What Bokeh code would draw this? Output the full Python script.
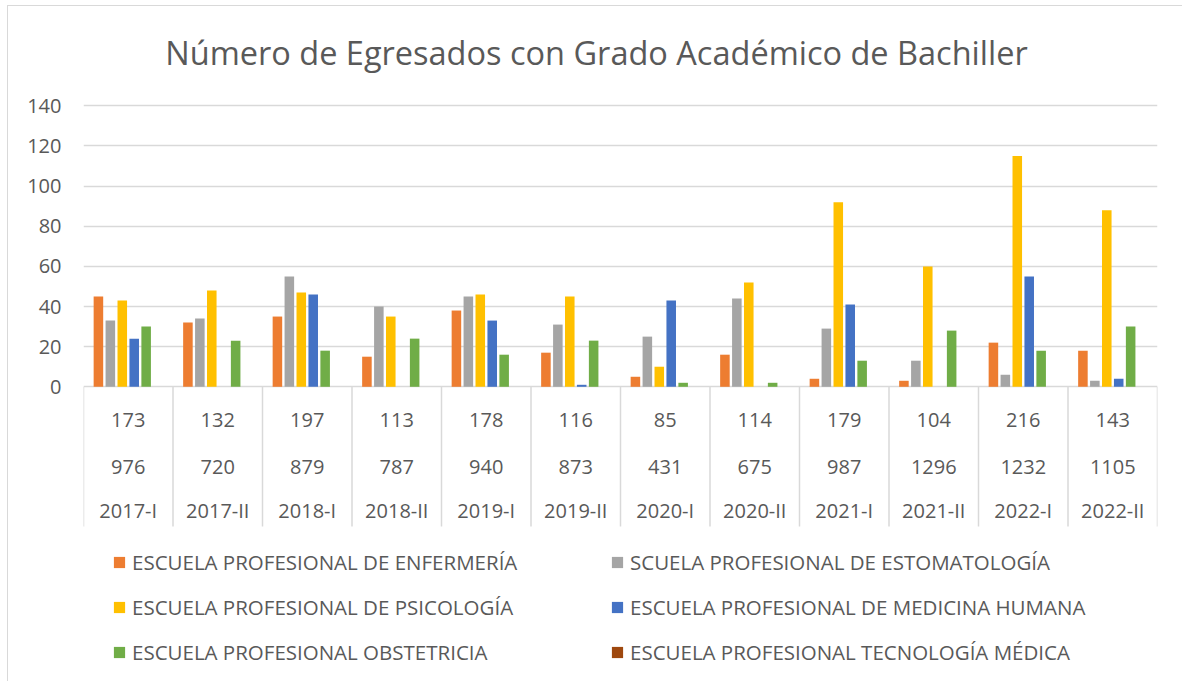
from bokeh.plotting import figure
from bokeh.models import ColumnDataSource, FactorRange, Range1d, FixedTicker, Legend, LegendItem
from bokeh.transform import dodge
from bokeh.core.properties import value
from bokeh.embed import file_html
from bokeh.resources import INLINE

# ---------------- data ----------------
title_text = "Número de Egresados con Grado Académico de Bachiller"
periods = ["2017-I", "2017-II", "2018-I", "2018-II", "2019-I", "2019-II",
           "2020-I", "2020-II", "2021-I", "2021-II", "2022-I", "2022-II"]
row_top = ["173", "132", "197", "113", "178", "116", "85", "114", "179", "104", "216", "143"]
row_mid = ["976", "720", "879", "787", "940", "873", "431", "675", "987", "1296", "1232", "1105"]

enfermeria = [45, 32, 35, 15, 38, 17, 5, 16, 4, 3, 22, 18]
estomatologia = [33, 34, 55, 40, 45, 31, 25, 44, 29, 13, 6, 3]
psicologia = [43, 48, 47, 35, 46, 45, 10, 52, 92, 60, 115, 88]
medicina = [24, 0, 46, 0, 33, 1, 43, 0, 41, 0, 55, 4]
obstetricia = [30, 23, 18, 24, 16, 23, 2, 2, 13, 28, 18, 30]
tecnologia = [0, 0, 0, 0, 0, 0, 0, 0, 0, 0, 0, 0]

series_names = ["ESCUELA PROFESIONAL DE ENFERMERÍA",
                "SCUELA PROFESIONAL DE ESTOMATOLOGÍA",
                "ESCUELA PROFESIONAL DE PSICOLOGÍA",
                "ESCUELA PROFESIONAL DE MEDICINA HUMANA",
                "ESCUELA PROFESIONAL OBSTETRICIA",
                "ESCUELA PROFESIONAL TECNOLOGÍA MÉDICA"]
series_keys = ["enf", "est", "psi", "med", "obs", "tec"]
series_colors = ["#ED7D31", "#A5A5A5", "#FFC000", "#4472C4", "#70AD47", "#9E480E"]
y_ticks = [0, 20, 40, 60, 80, 100, 120, 140]

# ---------------- layout helpers (pixels) ----------------
FONT = "Open Sans"
TXT = "#595959"
GRID = "#D9D9D9"
OX, OY = 8, 6       # page position of the canvas (after margin + border)
W, H = 1183 - OX, 682 - OY
Y0 = 386.3          # page y of value 0
S = 2.007           # px per unit
X_LEFT, X_RIGHT = 83, 1157


def vy(page_y):
    return (Y0 - page_y) / S


src = ColumnDataSource(dict(period=periods, top_lbl=row_top, mid_lbl=row_mid,
                            enf=enfermeria, est=estomatologia, psi=psicologia,
                            med=medicina, obs=obstetricia, tec=tecnologia))

p = figure(width=W, height=H,
           x_range=FactorRange(*periods, range_padding=0, factor_padding=0),
           y_range=Range1d(vy(OY + H), vy(OY)),
           output_backend="svg", toolbar_location=None, x_axis_location=None,
           min_border_left=X_LEFT - OX, min_border_right=(OX + W) - X_RIGHT,
           min_border_top=0, min_border_bottom=0)
p.styles = {"border-left": "1px solid #D9D9D9", "border-top": "1px solid #D9D9D9",
            "margin-left": "7px", "margin-top": "5px"}
p.background_fill_color = "white"
p.border_fill_color = "white"
p.outline_line_color = None

p.yaxis.ticker = FixedTicker(ticks=y_ticks)
p.yaxis.axis_line_color = None
p.yaxis.major_tick_line_color = None
p.yaxis.minor_tick_line_color = None
p.yaxis.major_tick_out = 0
p.yaxis.major_label_standoff = 22
p.yaxis.major_label_text_font = FONT
p.yaxis.major_label_text_font_size = "20px"
p.yaxis.major_label_text_color = TXT

p.xgrid.visible = False
p.ygrid.ticker = FixedTicker(ticks=y_ticks)
p.ygrid.grid_line_color = GRID
p.ygrid.grid_line_width = 1.5

# bars
n = len(series_keys)
slot = 0.8 / n
bar_w = slot * 0.8
renderers = []
for j, (key, color) in enumerate(zip(series_keys, series_colors)):
    r = p.vbar(x=dodge("period", (j - (n - 1) / 2) * slot, range=p.x_range),
               top=key, bottom=0, width=bar_w, source=src,
               fill_color=color, line_color=None)
    renderers.append(r)

# category table below the axis
bounds = list(range(len(periods) + 1))
p.segment(x0=bounds, y0=[0] * len(bounds), x1=bounds, y1=[vy(526)] * len(bounds),
          line_color=GRID, line_width=1.5)
for col, py in (("top_lbl", 419), ("mid_lbl", 466), ("period", 510)):
    p.text(x="period", y=vy(py), text=col, source=src,
           text_font=value(FONT), text_font_size="20px", text_color=TXT,
           text_align="center", text_baseline="middle")

# title
p.text(x=[(596 - X_LEFT) / ((X_RIGHT - X_LEFT) / len(periods))], y=[vy(52)], text=[title_text],
       text_font=value(FONT), text_font_size="32.5px", text_color=TXT,
       text_align="center", text_baseline="middle")

# legend
legend = Legend(items=[LegendItem(label=nm, renderers=[r]) for nm, r in zip(series_names, renderers)],
                location=(112 - X_LEFT, (OY + H) - 666), orientation="horizontal", ncols=2,
                border_line_color=None, background_fill_alpha=0, padding=0, margin=0,
                spacing=17, label_standoff=6, glyph_width=14, glyph_height=14,
                label_width=461, label_height=28,
                label_text_font=FONT, label_text_font_size="20.5px", label_text_color=TXT)
p.add_layout(legend)

open("out.html", "w").write(file_html(p, INLINE))
